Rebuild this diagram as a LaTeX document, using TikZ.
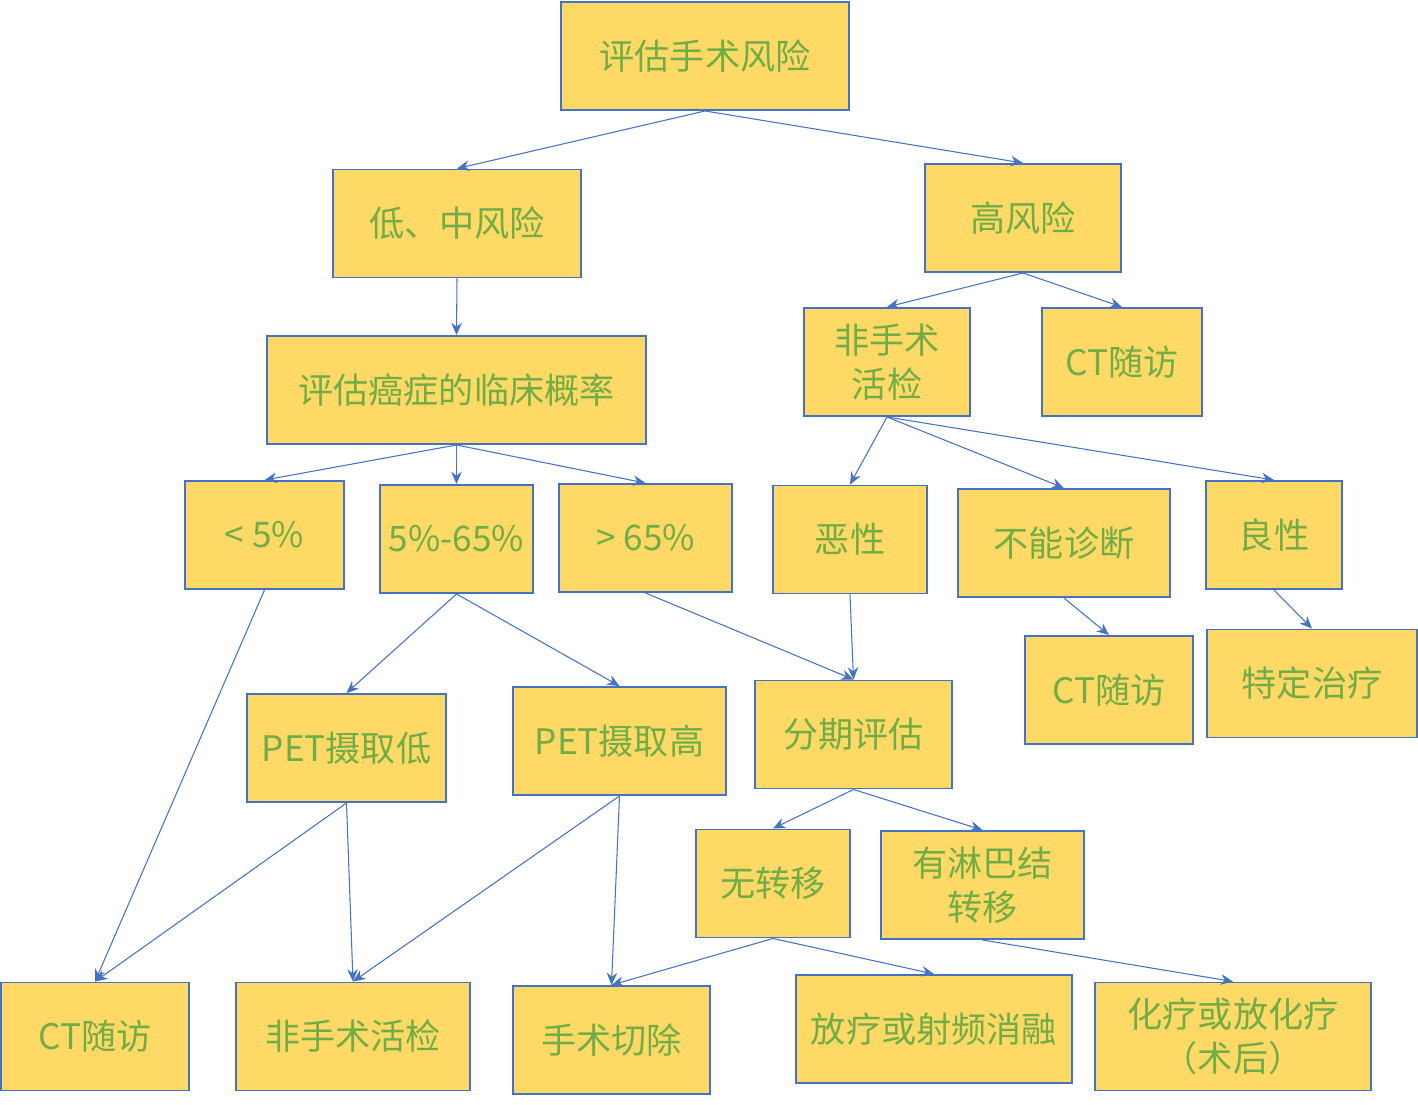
\documentclass[tikz,border=0pt]{standalone}
\usepackage{fontspec}
\setmainfont{Noto Sans CJK SC}
\usetikzlibrary{arrows.meta}
\definecolor{boxfill}{HTML}{FFD966}
\definecolor{boxline}{HTML}{4472C4}
\definecolor{boxtext}{HTML}{70AD47}
\begin{document}
\begin{tikzpicture}[>={Stealth[length=7pt,width=6pt]}]
\tikzset{
  box/.style={draw=boxline, line width=1.1pt, fill=boxfill, text=boxtext, minimum height=2.16cm, align=center, inner sep=2pt, font=\fontsize{20}{25}\selectfont},
  link/.style={->, draw=boxline, line width=0.6pt}
}
\useasboundingbox (0,0) rectangle (28.36,-22.1);
% top levels
\node[box, minimum width=5.76cm] (risk) at (14.1,-1.12) {评估手术风险};
\node[box, minimum width=4.96cm] (lowrisk) at (9.14,-4.47) {低、中风险};
\node[box, minimum width=3.92cm] (highrisk) at (20.46,-4.36) {高风险};
\node[box, minimum width=7.58cm] (prob) at (9.13,-7.8) {评估癌症的临床概率};
\node[box, minimum width=3.32cm] (nsbiopsyA) at (17.74,-7.24) {非手术\\活检};
\node[box, minimum width=3.2cm] (ctA) at (22.44,-7.24) {CT随访};
% probabilities and biopsy results
\node[box, minimum width=3.18cm] (pa) at (5.29,-10.7) {\textless\ 5\%};
\node[box, minimum width=3.06cm] (pb) at (9.13,-10.78) {5\%-65\%};
\node[box, minimum width=3.46cm] (pc) at (12.91,-10.76) {\textgreater\ 65\%};
\node[box, minimum width=3.08cm] (malig) at (17.0,-10.79) {恶性};
\node[box, minimum width=4.24cm] (nodiag) at (21.28,-10.86) {不能诊断};
\node[box, minimum width=2.72cm] (benign) at (25.48,-10.7) {良性};
\node[box, minimum width=3.36cm] (ctB) at (22.18,-13.8) {CT随访};
\node[box, minimum width=4.2cm] (treat) at (26.24,-13.67) {特定治疗};
% PET and staging
\node[box, minimum width=3.98cm] (petlow) at (6.93,-14.96) {PET摄取低};
\node[box, minimum width=4.26cm] (pethigh) at (12.39,-14.82) {PET摄取高};
\node[box, minimum width=3.94cm] (stage) at (17.07,-14.69) {分期评估};
\node[box, minimum width=3.08cm] (nomet) at (15.46,-17.67) {无转移};
\node[box, minimum width=4.06cm] (lymph) at (19.65,-17.7) {有淋巴结\\转移};
% outcomes
\node[box, minimum width=3.76cm] (ctC) at (1.9,-20.73) {CT随访};
\node[box, minimum width=4.68cm] (nsbiopsyB) at (7.06,-20.73) {非手术活检};
\node[box, minimum width=3.94cm] (surgery) at (12.23,-20.8) {手术切除};
\node[box, minimum width=5.52cm] (radio) at (18.68,-20.58) {放疗或射频消融};
\node[box, minimum width=5.52cm] (chemo) at (24.66,-20.73) {化疗或放化疗\\（术后）};
% connectors
\draw[link] (risk.south) -- (lowrisk.north);
\draw[link] (risk.south) -- (highrisk.north);
\draw[link] (lowrisk.south) -- (prob.north);
\draw[link] (highrisk.south) -- (nsbiopsyA.north);
\draw[link] (highrisk.south) -- (ctA.north);
\draw[link] (prob.south) -- (pa.north);
\draw[link] (prob.south) -- (pb.north);
\draw[link] (prob.south) -- (pc.north);
\draw[link] (nsbiopsyA.south) -- (malig.north);
\draw[link] (nsbiopsyA.south) -- (nodiag.north);
\draw[link] (nsbiopsyA.south) -- (benign.north);
\draw[link] (nodiag.south) -- (ctB.north);
\draw[link] (benign.south) -- (treat.north);
\draw[link] (pa.south) -- (ctC.north);
\draw[link] (pb.south) -- (petlow.north);
\draw[link] (pb.south) -- (pethigh.north);
\draw[link] (pc.south) -- (stage.north);
\draw[link] (malig.south) -- (stage.north);
\draw[link] (petlow.south) -- (ctC.north);
\draw[link] (petlow.south) -- (nsbiopsyB.north);
\draw[link] (pethigh.south) -- (nsbiopsyB.north);
\draw[link] (pethigh.south) -- (surgery.north);
\draw[link] (stage.south) -- (nomet.north);
\draw[link] (stage.south) -- (lymph.north);
\draw[link] (nomet.south) -- (surgery.north);
\draw[link] (nomet.south) -- (radio.north);
\draw[link] (lymph.south) -- (chemo.north);
\end{tikzpicture}
\end{document}
